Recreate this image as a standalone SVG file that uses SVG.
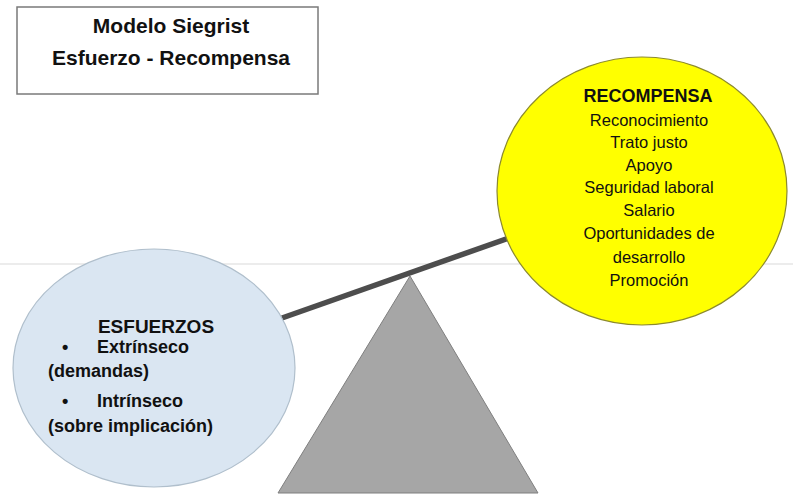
<svg xmlns="http://www.w3.org/2000/svg" width="793" height="497" viewBox="0 0 793 497">
  <style>
    text { font-family: "Liberation Sans", Arial, sans-serif; fill: #111; }
    .title { font-size: 21px; font-weight: bold; text-anchor: middle; }
    .head { font-size: 18px; font-weight: bold; text-anchor: middle; }
    .item { font-size: 16.5px; text-anchor: middle; }
    .left { font-size: 18px; font-weight: bold; }
  </style>
  <rect width="793" height="497" fill="#ffffff"/>
  <line x1="0" y1="264" x2="793" y2="264" stroke="#e6e6e6" stroke-width="1.5"/>

  <g id="title">
    <rect x="17" y="7" width="301" height="87" fill="#ffffff" stroke="#7a7a7a" stroke-width="1.5"/>
    <text class="title" x="171" y="33">Modelo Siegrist</text>
    <text class="title" x="171" y="65">Esfuerzo - Recompensa</text>
  </g>

  <g id="connectors">
    <line x1="282" y1="318" x2="560" y2="220" stroke="#4d4d4d" stroke-width="5.5"/>
  </g>

  <g id="fulcrum">
    <polygon points="410,276 278,493 538,493" fill="#a6a6a6" stroke="#7f7f7f" stroke-width="1"/>
  </g>

  <g id="esfuerzos">
    <ellipse cx="154" cy="368" rx="141" ry="119" fill="#dae6f2" stroke="#b0bfcc" stroke-width="1.2"/>
    <text class="head" x="156" y="333" style="font-size:19px">ESFUERZOS</text>
    <text class="left" x="62" y="353">•</text>
    <text class="left" x="97" y="353">Extrínseco</text>
    <text class="left" x="48" y="377">(demandas)</text>
    <text class="left" x="62" y="407">•</text>
    <text class="left" x="97" y="407">Intrínseco</text>
    <text class="left" x="48" y="432">(sobre implicación)</text>
  </g>

  <g id="recompensa">
    <ellipse cx="642" cy="191" rx="145" ry="134" fill="#ffff00" stroke="#8c8a2e" stroke-width="1.2"/>
    <text class="head" x="648" y="102">RECOMPENSA</text>
    <text class="item" x="649" y="126">Reconocimiento</text>
    <text class="item" x="649" y="148">Trato justo</text>
    <text class="item" x="649" y="171">Apoyo</text>
    <text class="item" x="649" y="193">Seguridad laboral</text>
    <text class="item" x="649" y="216">Salario</text>
    <text class="item" x="649" y="239">Oportunidades de</text>
    <text class="item" x="649" y="263">desarrollo</text>
    <text class="item" x="649" y="286">Promoción</text>
  </g>
</svg>
